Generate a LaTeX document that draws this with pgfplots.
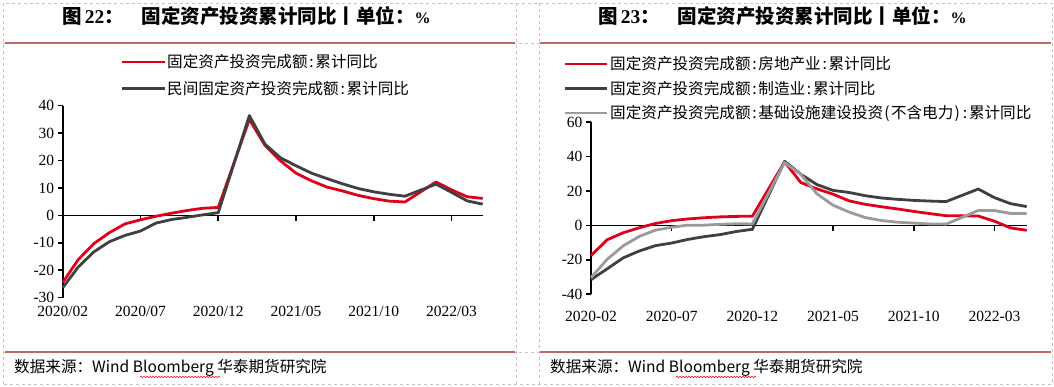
\documentclass[border=0pt]{standalone}
\usepackage{fontspec}
\setmainfont{Liberation Serif}
\newfontfamily\cjk{Noto Sans CJK SC}
\usepackage{pgfplots}
\usepackage{pgfplotstable}
\pgfplotsset{compat=1.18}
\usetikzlibrary{decorations.pathmorphing}

\definecolor{cred}{RGB}{224,0,26}
\definecolor{cdark}{RGB}{64,64,64}
\definecolor{clight}{RGB}{155,155,155}
\definecolor{sepc}{RGB}{192,104,100}
\definecolor{framec}{RGB}{195,195,195}

\pgfplotstableread{
i a b
0 -24.5 -26.4
1 -16.1 -18.8
2 -10.3 -13.3
3 -6.3 -9.6
4 -3.1 -7.3
5 -1.6 -5.7
6 -0.3 -2.8
7 0.8 -1.5
8 1.8 -0.7
9 2.6 0.2
10 2.9 1.0
12 35.0 36.4
13 25.6 26.0
14 19.9 21.0
15 15.4 18.1
16 12.6 15.4
17 10.3 13.4
18 8.9 11.5
19 7.3 9.8
20 6.1 8.6
21 5.2 7.7
22 4.9 7.0
24 12.2 11.4
25 9.3 8.4
26 6.8 5.3
27 6.2 4.1
}\leftdata

\pgfplotstableread{
i re mf inf
0 -17.5 -31.5 -30.3
1 -8.3 -25.2 -19.7
2 -4.2 -18.8 -11.8
3 -1.3 -14.8 -6.3
4 1.2 -11.7 -2.7
5 2.8 -10.2 -1.0
6 3.8 -8.1 0.2
7 4.5 -6.5 0.2
8 5.0 -5.3 0.7
9 5.3 -3.5 1.0
10 5.4 -2.2 0.9
12 37.0 37.3 36.6
13 25.0 29.8 29.7
14 21.3 23.8 18.4
15 18.2 20.4 11.8
16 14.3 19.2 7.8
17 12.3 17.3 4.6
18 10.9 16.0 2.9
19 9.6 15.2 1.9
20 8.2 14.6 1.4
21 6.9 14.2 0.9
22 5.7 13.9 0.8
24 5.5 21.2 8.7
25 2.5 16.2 8.7
26 -1.4 12.7 7.0
27 -2.8 11.0 7.0
}\rightdata

\newcommand\hc[1]{\makebox[0.5em]{#1}}
\newcommand\legfont{\cjk\fontsize{15.6}{18}\selectfont}

\begin{document}
\begin{tikzpicture}
\useasboundingbox (0,0) rectangle (1054pt,387pt);
% table frame
\draw[framec, dashed, line width=0.6pt] (3pt,3pt) rectangle (1052pt,384pt);
\draw[framec, dashed, line width=0.6pt] (516pt,3pt) -- (516pt,384pt);
\draw[framec, dashed, line width=0.6pt] (539pt,3pt) -- (539pt,384pt);
\draw[framec, dashed, line width=0.6pt] (3pt,344pt) -- (1052pt,344pt);
\draw[framec, dashed, line width=0.6pt] (3pt,35pt) -- (1052pt,35pt);
% separator lines
\draw[sepc, line width=2.7pt] (5pt,344pt) -- (515pt,344pt);
\draw[sepc, line width=2.7pt] (540pt,344pt) -- (1051pt,344pt);
\draw[sepc, line width=2.7pt] (5pt,35pt) -- (515pt,35pt);
\draw[sepc, line width=2.7pt] (540pt,35pt) -- (1051pt,35pt);
% titles
\node[anchor=west, inner sep=0pt] at (62pt,371pt) {\cjk\bfseries\fontsize{19.5}{20}\selectfont 图\,{\rmfamily 22}：\hspace{0.9em}固定资产投资累计同比丨单位：{\rmfamily\fontsize{16}{16}\selectfont\%}};
\node[anchor=west, inner sep=0pt] at (598pt,371pt) {\cjk\bfseries\fontsize{19.5}{20}\selectfont 图\,{\rmfamily 23}：\hspace{0.9em}固定资产投资累计同比丨单位：{\rmfamily\fontsize{16}{16}\selectfont\%}};
% sources
\node[anchor=west, inner sep=0pt] at (14pt,19pt) {\cjk\fontsize{15.6}{16}\selectfont 数据来源：Wind Bloomberg 华泰期货研究院};
\node[anchor=west, inner sep=0pt] at (550pt,19pt) {\cjk\fontsize{15.6}{16}\selectfont 数据来源：Wind Bloomberg 华泰期货研究院};
\draw[red, line width=0.5pt, decorate, decoration={snake, amplitude=0.7pt, segment length=3pt}] (140pt,10pt) -- (220pt,10pt);
\draw[red, line width=0.5pt, decorate, decoration={snake, amplitude=0.7pt, segment length=3pt}] (676pt,10pt) -- (756pt,10pt);
% legends
\draw[cred, line width=2.8pt] (121.6pt,325pt) -- (164.5pt,325pt);
\node[anchor=west, inner sep=0pt] at (167pt,325pt) {\legfont 固定资产投资完成额\hc{:}累计同比};
\draw[cdark, line width=2.8pt] (121.6pt,298.5pt) -- (164.5pt,298.5pt);
\node[anchor=west, inner sep=0pt] at (167pt,298.5pt) {\legfont 民间固定资产投资完成额\hc{:}累计同比};
\draw[cred, line width=2.8pt] (565pt,323pt) -- (607pt,323pt);
\node[anchor=west, inner sep=0pt] at (610pt,323pt) {\legfont 固定资产投资完成额\hc{:}房地产业\hc{:}累计同比};
\draw[cdark, line width=2.8pt] (565pt,298.5pt) -- (607pt,298.5pt);
\node[anchor=west, inner sep=0pt] at (610pt,298.5pt) {\legfont 固定资产投资完成额\hc{:}制造业\hc{:}累计同比};
\draw[clight, line width=2.8pt] (565pt,274pt) -- (607pt,274pt);
\node[anchor=west, inner sep=0pt] at (610pt,274pt) {\legfont 固定资产投资完成额\hc{:}基础设施建设投资\hc{(}不含电力\hc{)}\hc{:}累计同比};

\pgfplotsset{mystyle/.style={
  anchor=south west, scale only axis, xmin=0, xmax=27,
  axis y line*=left, axis x line*=bottom,
  x axis line style={draw=none}, xtick style={draw=none},
  xtick={0,5,10,15,20,25},
  y axis line style={line width=1.6pt},
  ytick style={line width=1.6pt, black},
  tick align=outside, major tick length=5pt,
  tick label style={font=\fontsize{15.5}{16}\selectfont},
  /pgf/number format/assume math mode=true,
  clip=false,
}}

\begin{axis}[mystyle, at={(62.7pt,89.3pt)}, width=420pt, height=192pt,
  ymin=-30, ymax=40, ytick={-30,-20,...,40},
  xticklabels={2020/02,2020/07,2020/12,2021/05,2021/10,2022/03}]
\draw[line width=1.6pt] (axis cs:0,0) -- (axis cs:27,0);
\pgfplotsinvokeforeach{5,10,15,20,25}{\draw[line width=1.6pt] (axis cs:#1,0) -- ++(0pt,-6pt);}
\addplot[cred, line width=2.8pt, line join=round] table[x=i,y=a] {\leftdata};
\addplot[cdark, line width=2.8pt, line join=round] table[x=i,y=b] {\leftdata};
\end{axis}

\begin{axis}[mystyle, at={(591pt,92.7pt)}, width=435.7pt, height=172pt,
  ymin=-40, ymax=60, ytick={-40,-20,...,60},
  xticklabel style={yshift=-8pt},
  xticklabels={2020-02,2020-07,2020-12,2021-05,2021-10,2022-03}]
\draw[line width=1.6pt] (axis cs:0,0) -- (axis cs:27,0);
\pgfplotsinvokeforeach{5,10,15,20,25}{\draw[line width=1.6pt] (axis cs:#1,0) -- ++(0pt,-6pt);}
\addplot[cred, line width=2.8pt, line join=round] table[x=i,y=re] {\rightdata};
\addplot[cdark, line width=2.8pt, line join=round] table[x=i,y=mf] {\rightdata};
\addplot[clight, line width=2.8pt, line join=round] table[x=i,y=inf] {\rightdata};
\end{axis}
\end{tikzpicture}
\end{document}
